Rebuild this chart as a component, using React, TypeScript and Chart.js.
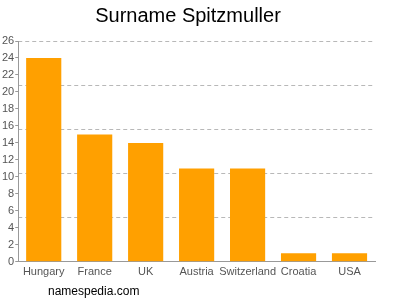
import React, { useEffect, useRef } from "react";
import { Chart, registerables } from "chart.js";

Chart.register(...registerables);

const categories = ["Hungary", "France", "UK", "Austria", "Switzerland", "Croatia", "USA"];
const counts = [24, 15, 14, 11, 11, 1, 1];
const titleText = "Surname Spitzmuller";
const watermark = "namespedia.com";
const yMax = 26;
const yStep = 2;
const gridStep = 5.2;

const FONT = "'Liberation Sans', Arial, sans-serif";

export default function App() {
  const ref = useRef<HTMLCanvasElement | null>(null);
  useEffect(() => {
    if (!ref.current) return;
    const wm = {
      id: "wm",
      afterDraw(chart: any) {
        const ctx = chart.ctx;
        ctx.save();
        ctx.font = `12px ${FONT}`;
        ctx.fillStyle = "#000";
        ctx.textBaseline = "middle";
        ctx.textAlign = "left";
        ctx.fillText(watermark, 48, 292);
        ctx.restore();
      },
    };
    const chart = new Chart(ref.current, {
      type: "bar",
      data: {
        labels: categories,
        datasets: [
          {
            data: counts,
            backgroundColor: "#ffa000",
            borderWidth: 0,
            barPercentage: 0.69,
            categoryPercentage: 1,
          },
        ],
      },
      options: {
        animation: false,
        responsive: false,
        maintainAspectRatio: false,
        layout: { padding: { left: 1, right: 25, top: 0, bottom: 17 } },
        plugins: {
          legend: { display: false },
          tooltip: { enabled: false },
          title: {
            display: true,
            text: titleText,
            color: "#000",
            font: { family: FONT, size: 20, weight: "normal" },
            padding: { top: 4, bottom: 13 },
          },
        },
        scales: {
          x: {
            grid: { display: true, drawOnChartArea: false, drawTicks: false, color: "#999" },
            border: { display: true, color: "#999" },
            ticks: { color: "#555", font: { family: FONT, size: 11 }, padding: 4, maxRotation: 0, autoSkip: false },
          },
          y: {
            min: 0,
            max: yMax,
            position: "left",
            ticks: { stepSize: yStep, color: "#555", font: { family: FONT, size: 11 }, padding: 1 },
            grid: { display: true, drawOnChartArea: false, drawTicks: true, tickLength: 3, color: "#999" },
            border: { display: true, color: "#999" },
          },
          y2: {
            min: 0,
            max: yMax,
            position: "right",
            display: true,
            afterFit(scale: any) { scale.width = 0; },
            ticks: { display: false, stepSize: gridStep },
            grid: { display: true, drawTicks: false, color: "#b8b8b8", tickLength: 0 },
            border: { display: false, dash: [4, 3] },
          },
        },
      },
      plugins: [wm],
    } as any);
    return () => chart.destroy();
  }, []);
  return (
    <div style={{ position: "fixed", left: 0, top: 0, width: 400, height: 300 }}>
      <canvas ref={ref} width={400} height={300} style={{ display: "block" }} />
    </div>
  );
}
